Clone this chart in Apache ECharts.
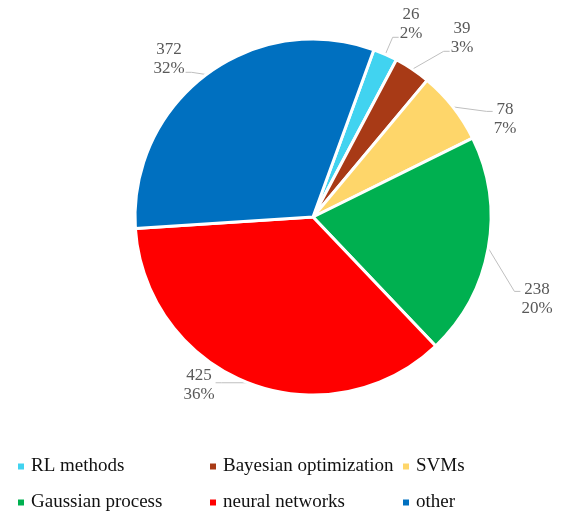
<!DOCTYPE html>
<html>
<head>
<meta charset="utf-8">
<script src="https://cdn.jsdelivr.net/npm/echarts@6/dist/echarts.min.js"></script>
<style>
  html, body { margin: 0; padding: 0; background: #fff; }
  #chart { width: 561px; height: 515px; }
</style>
</head>
<body>
<div id="chart"></div>
<script>
// Paper counts per method family
const categories = ['RL methods', 'Bayesian optimization', 'SVMs', 'Gaussian process', 'neural networks', 'other'];
const counts = [26, 39, 78, 238, 425, 372];
const colors = ['#41D3F0', '#A83A16', '#FED66A', '#00B050', '#FF0000', '#0070C0'];

// Data label block centres (pixels), placed around the pie
const labelCentres = [[411, 24], [462, 38], [505, 119], [537, 299], [199, 385], [169, 59]];

// Legend grid: three columns, two rows
const legendCols = [11, 203, 396];
const legendRows = [452, 488];

const serif = '"Liberation Serif", "DejaVu Serif", serif';

const legends = categories.map((name, i) => ({
  data: [name],
  left: legendCols[i % 3],
  top: legendRows[Math.floor(i / 3)],
  itemWidth: 8,
  itemHeight: 8,
  itemGap: 0,
  icon: 'rect',
  selectedMode: false,
  textStyle: { fontFamily: serif, fontSize: 19, color: '#111', padding: [0, 0, 0, 1] }
}));

// Leader line: from the slice's outer mid-point to the near side of the label box,
// ending with a short horizontal leg.
function placeLabel(params) {
  const c = labelCentres[params.dataIndex];
  const w = params.labelRect.width;
  const h = params.labelRect.height;
  const start = params.labelLinePoints ? params.labelLinePoints[0] : null;
  const out = { x: c[0], y: c[1], align: 'center', verticalAlign: 'middle' };
  if (start) {
    const top = c[1] - h / 2;
    const bottom = c[1] + h / 2;
    const ay = Math.min(Math.max(start[1], top + 0.3 * h), bottom - 0.15 * h);
    const rightSide = start[0] < c[0];
    const ex = rightSide ? c[0] - w / 2 - 1 : c[0] + w / 2 + 1;
    const kx = rightSide ? ex - 6 : ex + 6;
    out.labelLinePoints = [start, [kx, ay], [ex, ay]];
  }
  return out;
}

const chart = echarts.init(document.getElementById('chart'), null, { renderer: 'canvas' });
chart.setOption({
  animation: false,
  color: colors,
  legend: legends,
  series: [{
    type: 'pie',
    center: [313, 217],
    radius: 178,
    startAngle: 70,
    clockwise: true,
    percentPrecision: 0,
    itemStyle: { borderColor: '#fff', borderWidth: 3 },
    label: {
      show: true,
      position: 'outside',
      formatter: '{c}\n{d}%',
      fontFamily: serif,
      fontSize: 17,
      lineHeight: 19,
      color: '#595959',
      align: 'center'
    },
    labelLine: {
      show: true,
      length: 14,
      length2: 8,
      lineStyle: { color: '#bfbfbf', width: 1 }
    },
    labelLayout: placeLabel,
    emphasis: { disabled: true },
    data: categories.map((name, i) => ({ name, value: counts[i] }))
  }]
});
</script>
</body>
</html>
